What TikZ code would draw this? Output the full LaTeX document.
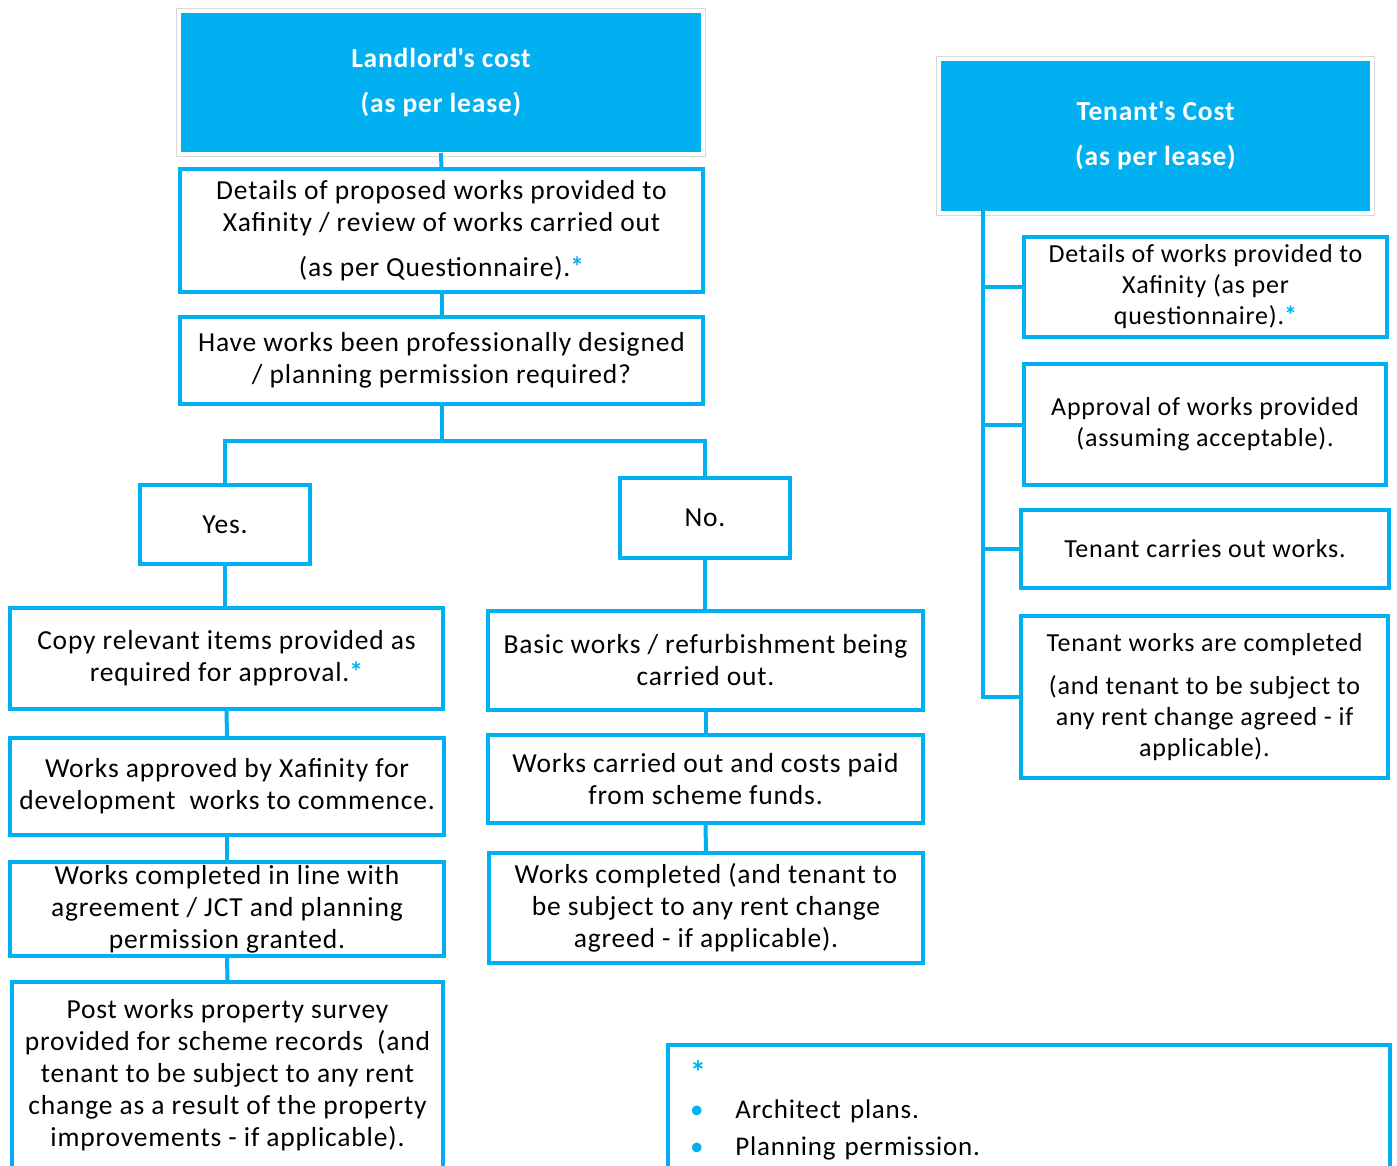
\documentclass[tikz,border=0pt]{standalone}
\usepackage{fontspec}
\setmainfont{Carlito}[LetterSpace=3]
\definecolor{xblue}{RGB}{0,176,240}
\newcommand{\bstar}{{\color{xblue}\bfseries*}}

\begin{document}
\begin{tikzpicture}[x=1pt, y=-1pt,
    head/.style={fill=xblue, draw=white, line width=4pt, preaction={draw=gray!30, line width=6pt}, text=white, align=center, inner sep=0pt, font=\bfseries\fontsize{27.5}{45}\selectfont},
    stage/.style={draw=xblue, line width=4pt, fill=white, align=center, inner sep=0pt, font=\fontsize{27.5}{32}\selectfont},
    tstage/.style={stage, font=\fontsize{26}{31}\selectfont},
    link/.style={draw=xblue, line width=4pt}]

    \clip (0,0) rectangle (1397,1166);

    % Draw the landlord side
    \node[head, minimum width=524pt, minimum height=143pt] (lhead) at (441,82.5) {Landlord\textquotesingle s cost\\(as per lease)};
    \node[stage, minimum width=523pt, minimum height=123pt] (l1) at (441.5,230.5) {Details of proposed works provided to\\Xafinity / review of works carried out\\[13pt](as per Questionnaire).\bstar};
    \node[stage, minimum width=523pt, minimum height=87pt] (l2) at (441.5,360.5) {Have works been professionally designed\\/ planning permission required?};

    % Draw the yes / no answers
    \node[stage, minimum width=170pt, minimum height=79pt] (yes) at (225,524.5) {Yes.};
    \node[stage, minimum width=170pt, minimum height=80pt] (no) at (705,518) {No.};

    % Draw the yes branch
    \node[stage, minimum width=433pt, minimum height=101pt] (copy) at (226.5,658.5) {Copy relevant items provided as\\required for approval.\bstar};
    \node[stage, minimum width=434pt, minimum height=97pt] (approved) at (227,786.5) {Works approved by Xafinity for\\development\ \ works to commence.};
    \node[stage, minimum width=434pt, minimum height=94pt] (completed) at (227,909) {Works completed in line with\\agreement / JCT and planning\\permission granted.};
    \node[stage, minimum width=431pt, minimum height=187pt] (post) at (227.5,1075.5) {Post works property survey\\provided for scheme records\ \ (and\\tenant to be subject to any rent\\change as a result of the property\\improvements - if applicable).};

    % Draw the no branch
    \node[stage, minimum width=435pt, minimum height=99pt] (basic) at (705.5,660.5) {Basic works / refurbishment being\\carried out.};
    \node[stage, minimum width=435pt, minimum height=88pt] (carried) at (705.5,779) {Works carried out and costs paid\\from scheme funds.};
    \node[stage, minimum width=434pt, minimum height=110pt] (wcomp) at (706,908) {Works completed (and tenant to\\be subject to any rent change\\agreed - if applicable).};

    % Draw the tenant side
    \node[head, minimum width=433pt, minimum height=154pt] (thead) at (1155.5,136) {Tenant\textquotesingle s Cost\\(as per lease)};
    \node[tstage, minimum width=363pt, minimum height=100pt] (t1) at (1205.5,287) {Details of works provided to\\Xafinity (as per\\questionnaire).\bstar};
    \node[tstage, minimum width=362pt, minimum height=121pt] (t2) at (1205,424.5) {Approval of works provided\\(assuming acceptable).};
    \node[tstage, minimum width=368pt, minimum height=78pt] (t3) at (1205,549) {Tenant carries out works.};
    \node[tstage, minimum width=367pt, minimum height=162pt] (t4) at (1204.5,697) {Tenant works are completed\\[12pt](and tenant to be subject to\\any rent change agreed - if\\applicable).};

    % Draw the footnote
    \node[stage, anchor=north west, align=left, text width=678pt, minimum height=130pt, inner xsep=22pt, font=\fontsize{27}{37}\selectfont] (note) at (666,1043) {{\fontsize{32}{32}\selectfont\raisebox{-6pt}{\bstar}}\\[4pt]{\color{xblue}\textbullet}\hspace{32pt}Architect plans.\\{\color{xblue}\textbullet}\hspace{32pt}Planning permission.};

    % Draw connections
    \draw[link, shorten <=-3pt] (lhead.south) -- (l1.north);
    \draw[link] (l1.south) -- (l2.north);
    \coordinate (split) at (441.5,441);
    \draw[link] (l2.south) -- (split);
    \draw[link] (yes.north) |- (split) -| (no.north);
    \draw[link] (yes.south) -- (yes.south |- copy.north);
    \draw[link] (no.south) -- (no.south |- basic.north);
    \foreach \a/\b in {copy/approved, approved/completed, completed/post, basic/carried, carried/wcomp}
        \draw[link] (\a.south) -- (\b.north);

    \coordinate (tspine) at (983,211);
    \draw[link] (tspine) |- (t4.west);
    \foreach \t in {t1,t2,t3}
        \draw[link] (tspine |- \t.west) -- (\t.west);

\end{tikzpicture}
\end{document}
